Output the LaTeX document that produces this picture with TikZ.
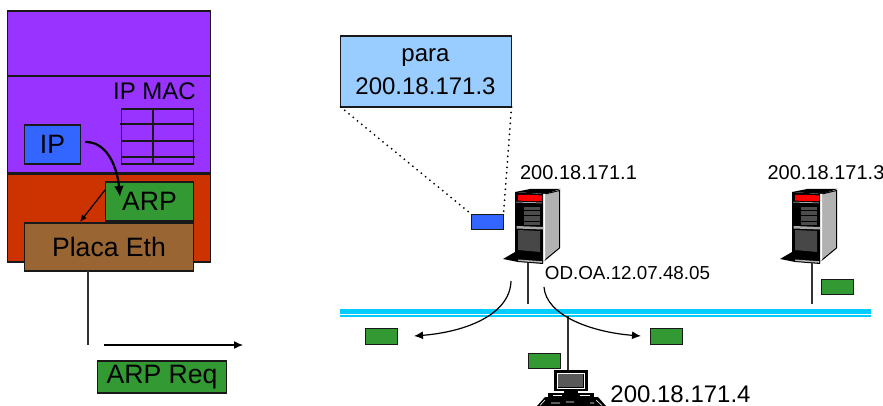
\documentclass[tikz,border=0pt]{standalone}
\usepackage{fontspec}
\setmainfont{Liberation Sans}
\usetikzlibrary{arrows.meta}
\definecolor{purp}{HTML}{9933FF}
\definecolor{redl}{HTML}{CC3300}
\definecolor{ipblue}{HTML}{3366FF}
\definecolor{grn}{HTML}{339933}
\definecolor{brn}{HTML}{996633}
\definecolor{paleblue}{HTML}{99CCFF}
\definecolor{cy}{HTML}{00CCFF}
\tikzset{
  layer/.style={draw=black!90,line width=1.2pt,fill=#1,anchor=north west,inner sep=0pt,outer sep=0pt},
  labelbox/.style={draw=black!90,line width=1.2pt,fill=#1,inner sep=0pt,outer sep=0pt,align=center,font=\fontsize{26.6}{30}\selectfont},
  pkt/.style={draw=black!90,line width=1.2pt,fill=#1,minimum width=32pt,minimum height=15.5pt,inner sep=0pt,outer sep=0pt},
  ttext/.style={inner sep=0pt,outer sep=0pt,font=\fontsize{#1}{#1}\selectfont},
  wire/.style={black!80,line width=1.3pt},
  tipline/.style={black,line width=1.2pt,-{Latex[length=9pt,width=8pt]}},
  smalltip/.style={black,line width=1.2pt,-{Latex[length=7pt,width=6pt]}},
  dots/.style={black,line width=2pt,line cap=round,dash pattern=on 0pt off 5.5pt},
  pics/server/.style={code={
    % top and side
    \fill[black] (0,2) -- (15,-1) -- (45.5,-1) -- (30,4) -- cycle;
    \fill[black!30,draw=black,line width=1pt] (30,4) -- (44.5,0.5) -- (44.5,58) -- (30,70) -- cycle;
    \fill[white] (28,4) -- (30.7,4) -- (30.7,69) -- (28,71) -- cycle;
    % front
    \fill[black] (0,2) -- (28,4) -- (28,72) -- (0,70) -- cycle;
    \fill[red] (3,5) to[bend left=3] (27,5.5) -- (27,11) to[bend left=3] (3,10.5) -- cycle;
    \draw[white,line width=0.5pt] (1,12) -- (27,13);
    \fill[black!70] (9,17) rectangle (25,35);
    \draw[black,line width=0.8pt] (9,20) -- (25,20) (9,25.5) -- (25,25.5) (9,31) -- (25,31);
    \fill[black!35] (1.5,36) -- (28,37) -- (28,39.5) -- (1.5,38.5) -- cycle;
    \fill[black!72] (3,40) -- (25,41) -- (25,62) -- (3,60) -- cycle;
    % foot
    \fill[black] (-12,69) -- (0,62) -- (3,68) -- (28,70) -- (28,74) -- (3,72) -- cycle;
    \fill[black!30] (3,69.5) -- (27,71.2) -- (27,72.8) -- (3,71) -- cycle;
  }},
  pics/desktop/.style={code={
    \fill[black] (0,0) rectangle (33.5,20.5);
    \fill[black!65] (4,4) rectangle (29,16.5);
    \draw[white,line width=0.4pt] (2.7,2.7) rectangle (30.5,18);
    \fill[black] (10,20.5) rectangle (24,23);
    \fill[black] (-6,23) rectangle (40,29);
    \draw[white,line width=0.7pt] (-1,25) -- (8,25) (26,25) -- (36,25);
    \fill[black] (-17,36) -- (-9,27) -- (44,27) -- (52,36) -- cycle;
    \draw[white,line width=0.6pt] (-14,35.5) -- (-9,30) (-3,33) -- (6,33) (12,32) -- (20,32) (36,33) -- (40,33) (42,30) -- (48,35.5);
  }}
}
\begin{document}
\begin{tikzpicture}[x=1pt,y=-1pt]
\useasboundingbox (0,0) rectangle (883,406);
% stack
\node[layer=redl,minimum width=203pt,minimum height=88pt] (linkl) at (7.5,174) {};
\node[layer=purp,minimum width=203pt,minimum height=65pt] (app) at (7.5,11) {};
\node[layer=purp,minimum width=203pt,minimum height=97pt] (net) at (7.5,76) {};
\node[ttext=24] (ipmac) at (154.5,91) {IP MAC};
\node[layer=purp,minimum width=72pt,minimum height=55pt] (tbl) at (121.5,109) {};
\coordinate (tv1) at (153,109);
\coordinate (tv2) at (153,165);
\draw[black!90,line width=1.2pt] (tv1) -- (tv2);
\draw[black!90,line width=1.2pt] (120,124) -- (194,124) (121,141) -- (194,141) (121,157) -- (195,157);
\node[labelbox=ipblue,minimum width=56pt,minimum height=39pt] (ip) at (52.5,144.5) {IP};
\node[labelbox=grn,minimum width=88pt,minimum height=39pt] (arp) at (149.5,201.5) {ARP};
\node[labelbox=brn,minimum width=169pt,minimum height=48pt] (placa) at (109,247) {Placa Eth};
\coordinate (ipout) at (86,142);
\coordinate (arpin) at (120,197);
\draw[black,line width=2.2pt,line cap=round,-{Latex[length=11pt,width=10pt]}] (ipout) .. controls (106,142) and (117,165) .. (arpin);
\coordinate (arpw) at (105,190);
\coordinate (placatop) at (80,222);
\draw[smalltip] (arpw) -- (placatop);
\coordinate (drop) at (88,345);
\draw[wire] (placa.south -| drop) -- (drop);
\coordinate (sendA) at (104,345);
\coordinate (sendB) at (243,345);
\draw[tipline] (sendA) -- (sendB);
\node[labelbox=grn,minimum width=129pt,minimum height=32pt] (arpreq) at (162,377) {ARP Req};
% callout
\node[layer=paleblue,minimum width=171pt,minimum height=71pt] (callout) at (340.5,36) {};
\node[ttext=24,align=center] (calltxt) at (425.5,71.5) {para\\[9pt]200.18.171.3};
\node[pkt=ipblue] (pktip) at (487.5,222) {};
\draw[dots] (callout.south west) -- (pktip.north west);
\draw[dots] (callout.south east) -- (pktip.north east);
% bus
\fill[cy] (340,309) rectangle (871,314);
\fill[cy] (340,315) rectangle (871,316.5);
\coordinate (bus1) at (528,304);
\coordinate (bus2) at (812,304);
\coordinate (bus3) at (568,316);
% servers
\pic at (515,190) {server};
\pic at (792,190) {server};
\coordinate (srv1) at (528,263);
\coordinate (srv2) at (812,263);
\draw[wire] (srv1) -- (bus1);
\draw[wire] (srv2) -- (bus2);
\node[ttext=20] (addr1) at (578.5,173) {200.18.171.1};
\node[ttext=20] (addr3) at (826,173) {200.18.171.3};
\node[ttext=18.8] (mac) at (627.5,273) {OD.OA.12.07.48.05};
% desktop
\pic at (554,370) {desktop};
\coordinate (pc) at (568,370);
\draw[wire] (bus3) -- (pc);
\node[ttext=24] (addr4) at (680.5,394) {200.18.171.4};
% arrows
\coordinate (lstart) at (511,281);
\coordinate (lend) at (414,336);
\coordinate (rstart) at (544,287);
\coordinate (rend) at (641,336);
\draw[tipline] (lstart) .. controls (510,315) and (465,332) .. (lend);
\draw[tipline] (rstart) .. controls (546,315) and (590,332) .. (rend);
% packets
\node[pkt=grn] (p1) at (381.5,336.5) {};
\node[pkt=grn] (p2) at (666.5,336.5) {};
\node[pkt=grn] (p3) at (544.5,361) {};
\node[pkt=grn] (p4) at (837.5,287) {};
\end{tikzpicture}
\end{document}
